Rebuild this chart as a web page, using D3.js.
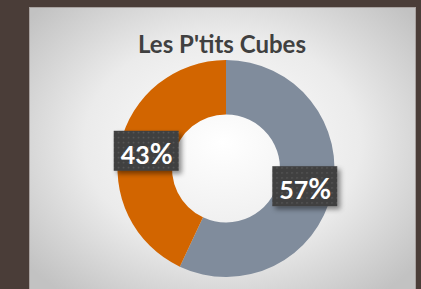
<!DOCTYPE html>
<html>
<head>
<meta charset="utf-8">
<script src="https://cdn.jsdelivr.net/npm/d3@7"></script>
<style>
  html, body { margin: 0; padding: 0; background: #4a3d38; }
  svg { display: block; }
</style>
</head>
<body>
<div id="chart"></div>
<script>
const categories = ["Gris", "Orange"];
const values = [57, 43];
const colors = ["#808c9c", "#d26500"];
const title = "Les P'tits Cubes";

const width = 421, height = 289;
const cx = 226, cy = 168.5;
const outerR = 108.5, innerR = 54;

const svg = d3.select("#chart").append("svg")
  .attr("width", width)
  .attr("height", height);

const defs = svg.append("defs");

// panel background gradient
const grad = defs.append("radialGradient")
  .attr("id", "panelGrad")
  .attr("cx", "50%").attr("cy", "45%").attr("r", "65%");
grad.append("stop").attr("offset", "0%").attr("stop-color", "#ffffff");
grad.append("stop").attr("offset", "55%").attr("stop-color", "#ebebeb");
grad.append("stop").attr("offset", "100%").attr("stop-color", "#c2c2c2");

// dotted pattern for labels
const pat = defs.append("pattern")
  .attr("id", "dots")
  .attr("width", 5).attr("height", 5)
  .attr("patternUnits", "userSpaceOnUse");
pat.append("rect").attr("width", 5).attr("height", 5).attr("fill", "#3f3f3f");
pat.append("rect").attr("x", 1).attr("y", 1).attr("width", 1.5).attr("height", 1.5).attr("fill", "#5a5a5a");

// drop shadow
const shadow = defs.append("filter").attr("id", "shadow")
  .attr("x", "-20%").attr("y", "-20%").attr("width", "150%").attr("height", "150%");
shadow.append("feDropShadow")
  .attr("dx", 3).attr("dy", 3).attr("stdDeviation", 2.5)
  .attr("flood-color", "#000").attr("flood-opacity", 0.45);

// panel
svg.append("rect")
  .attr("x", 29.5).attr("y", 7.5)
  .attr("width", 386).attr("height", 300)
  .attr("fill", "url(#panelGrad)")
  .attr("stroke", "#a8a2a0")
  .attr("stroke-width", 1);

// title
svg.append("text")
  .attr("x", 222)
  .attr("y", 53)
  .attr("text-anchor", "middle")
  .style("font-family", "Lato, sans-serif")
  .style("font-weight", "bold")
  .style("font-size", "24px")
  .style("fill", "#404040")
  .text(title);

const pie = d3.pie().sort(null).value(d => d)(values);
const arc = d3.arc().innerRadius(innerR).outerRadius(outerR);

const g = svg.append("g").attr("transform", `translate(${cx},${cy})`);

g.selectAll("path")
  .data(pie)
  .enter()
  .append("path")
  .attr("d", arc)
  .attr("fill", (d, i) => colors[i]);

// labels
const total = d3.sum(values);
const labels = g.selectAll(".lbl")
  .data(pie)
  .enter()
  .append("g")
  .attr("class", "lbl")
  .attr("transform", d => `translate(${arc.centroid(d)})`);

labels.append("rect")
  .attr("x", -33).attr("y", -20)
  .attr("width", 65).attr("height", 40)
  .attr("fill", "url(#dots)")
  .attr("filter", "url(#shadow)");

const lt = labels.append("text")
  .attr("text-anchor", "middle")
  .attr("y", 13)
  .style("font-family", "Lato, sans-serif")
  .style("font-weight", "bold")
  .style("font-size", "25px")
  .style("fill", "#ffffff");
lt.append("tspan").text(d => Math.round(d.data / total * 100));
lt.append("tspan").style("font-size", "28px").text("%");
</script>
</body>
</html>
